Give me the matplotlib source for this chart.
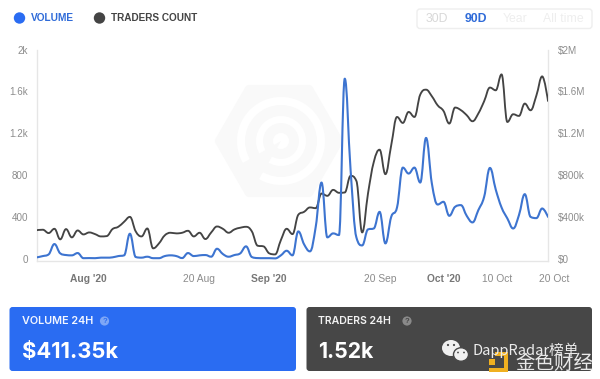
import numpy as np
import matplotlib
matplotlib.use("Agg")
import matplotlib.pyplot as plt
from matplotlib.path import Path
from matplotlib.patches import PathPatch, FancyBboxPatch, Circle, Ellipse, Polygon, Rectangle, RegularPolygon, Wedge

traders = [273,277,245,286,185,283,204,270,232,251,235,213,216,283,305,353,400,261,213,289,
           99,146,223,248,242,248,267,213,248,188,251,308,286,248,280,296,305,261,124,118,
           51,41,178,286,235,420,448,490,483,623,601,658,630,633,792,744,251,623,925,1042,
           808,1085,1355,1298,1403,1355,1569,1616,1553,1466,1413,1292,1445,1420,1372,1314,1388,1505,1636,1610,
           1762,1307,1381,1365,1483,1419,1560,1743,1508]
volume_k = [13,25,41,140,51,35,32,54,5,6,5,10,10,13,25,32,239,16,10,19,
            5,5,25,32,25,6,54,25,32,35,19,95,45,19,35,51,118,16,6,5,
            5,3,32,76,32,261,137,70,305,728,204,242,226,1721,850,204,127,280,289,448,
            146,400,490,871,814,871,728,1155,719,518,544,410,496,512,410,347,464,591,868,661,
            490,385,289,417,617,400,388,480,400]
left_ticks = [0,400,800,1200,1600,2000]
left_labels = ['0','400','800','1.2k','1.6k','2k']
right_labels = ['$0','$400k','$800k','$1.2M','$1.6M','$2M']
x_tick_pos = [8.78,27.9,39.95,59.07,70.1,79.2,89.0]
x_tick_labels = ["Aug '20",'20 Aug',"Sep '20",'20 Sep',"Oct '20",'10 Oct','20 Oct']
x_tick_bold = [True,False,True,False,True,False,False]
range_labels = ['30D','90D','Year','All time']

BLUE='#2a6cf2'; LINEBLUE='#3d74d0'; DARK='#474747'
W,H=600,379
SANS=['Liberation Sans','DejaVu Sans']
fig=plt.figure(figsize=(W/100,H/100),dpi=100,facecolor='white')

# pixel overlay underneath the chart
bg=fig.add_axes([0,0,1,1],zorder=0); bg.set_xlim(0,W); bg.set_ylim(H,0); bg.axis('off')
hexcol='#f9f9f9'
bg.add_patch(RegularPolygon((279,141),6,radius=60,orientation=np.pi/6,facecolor=hexcol,edgecolor=hexcol,lw=6,joinstyle='round'))
for r,c in [(44,'white'),(36,hexcol),(25,'white'),(18,hexcol),(8,'white')]:
    bg.add_patch(Circle((281,141),r,facecolor=c,edgecolor='none'))
bg.add_patch(Wedge((281,141),45,120,150,facecolor=hexcol,edgecolor='none'))

ax=fig.add_axes([37/W,1-261/H,511/W,(261-49.5)/H],zorder=2)
x=np.arange(len(traders),dtype=float)
ax.set_facecolor('none')

def spline(xs,ys,s=1.5):
    xs=np.asarray(xs,float); ys=np.asarray(ys,float)
    verts=[(xs[0],ys[0])]; codes=[Path.MOVETO]
    n=len(xs)
    def ctrl(i):
        if i==0 or i==n-1: return (xs[i],ys[i]),(xs[i],ys[i])
        lx=(s*xs[i]+xs[i-1])/(s+1); ly=(s*ys[i]+ys[i-1])/(s+1)
        rx=(s*xs[i]+xs[i+1])/(s+1); ry=(s*ys[i]+ys[i+1])/(s+1)
        c=(ry-ly)*(rx-xs[i])/(rx-lx)+ys[i]-ry
        ly+=c; ry+=c
        if ly>ys[i-1] and ly>ys[i]:
            ly=max(ys[i-1],ys[i]); ry=2*ys[i]-ly
        elif ly<ys[i-1] and ly<ys[i]:
            ly=min(ys[i-1],ys[i]); ry=2*ys[i]-ly
        if ry>ys[i+1] and ry>ys[i]:
            ry=max(ys[i+1],ys[i]); ly=2*ys[i]-ry
        elif ry<ys[i+1] and ry<ys[i]:
            ry=min(ys[i+1],ys[i]); ly=2*ys[i]-ry
        return (lx,ly),(rx,ry)
    for i in range(n-1):
        _,r=ctrl(i); l,_=ctrl(i+1)
        verts+= [r,l,(xs[i+1],ys[i+1])]
        codes+= [Path.CURVE4]*3
    return Path(verts,codes)

ax.add_patch(PathPatch(spline(x,traders),fill=False,edgecolor='#444444',lw=1.35,capstyle='round',joinstyle='round',zorder=3))
ax.add_patch(PathPatch(spline(x,volume_k),fill=False,edgecolor=LINEBLUE,lw=1.5,capstyle='round',joinstyle='round',zorder=4))
ax.set_xlim(0,88)
ax.set_ylim(-22,2000)
ax.spines['top'].set_visible(False)
for s in ['left','right','bottom']:
    ax.spines[s].set_color('#e6e6e6'); ax.spines[s].set_linewidth(1)
ax.set_yticks(left_ticks); ax.set_yticklabels(left_labels,family=SANS,fontsize=7.1,color='#8c8c8c')
ax.tick_params(axis='y',length=0,pad=6.5)
ax.set_xticks([])
ax2=ax.twinx(); ax2.set_ylim(-22,2000); ax2.set_zorder(1)
ax2.patch.set_visible(False)
ax2.set_yticks(left_ticks); ax2.set_yticklabels(right_labels,family=SANS,fontsize=7.1,color='#8c8c8c')
ax2.tick_params(axis='y',length=0,pad=7)
for s in ax2.spines.values(): s.set_visible(False)

tr=ax.get_xaxis_transform()
for p,l,b in zip(x_tick_pos,x_tick_labels,x_tick_bold):
    ax.text(p,-17.6/211.5,l,transform=tr,ha='center',va='center',family=SANS,fontsize=7.4,
            fontweight='bold' if b else 'normal',color='#777777' if b else '#8c8c8c',clip_on=False)

ov=fig.add_axes([0,0,1,1],zorder=5); ov.set_xlim(0,W); ov.set_ylim(H,0); ov.axis('off'); ov.patch.set_visible(False)
def T(x,y,s,**k):
    k.setdefault('va','center'); k.setdefault('family',SANS)
    return ov.text(x,y,s,**k)
ov.add_patch(Circle((19.5,18),5.7,facecolor=BLUE,edgecolor='none'))
T(30.5,18.3,'VOLUME',fontsize=7.3,fontweight='bold',color='#2f6bd8')
ov.add_patch(Circle((99.5,18),5.7,facecolor='#444444',edgecolor='none'))
T(111,18.3,'TRADERS COUNT',fontsize=7.2,fontweight='bold',color='#444444')
ov.add_patch(FancyBboxPatch((417,9),175,19.5,boxstyle='round,pad=0,rounding_size=3',facecolor='white',edgecolor='#eeeeee',lw=1))
for cx,l,c,w in zip([437,476,515,563],range_labels,['#d8d8d8','#2f6bd8','#eeeeee','#eeeeee'],['normal','bold','normal','normal']):
    T(cx,18.5,l,ha='center',fontsize=8.8,color=c,fontweight=w)
ov.add_patch(FancyBboxPatch((9.5,307),286.5,64,boxstyle='round,pad=0,rounding_size=3',facecolor=BLUE,edgecolor='none'))
ov.add_patch(FancyBboxPatch((306.5,307),285.5,64,boxstyle='round,pad=0,rounding_size=3',facecolor=DARK,edgecolor='none'))
PF=['Inter','DejaVu Sans']
T(22,320.8,'VOLUME 24H',family=PF,fontsize=7.8,fontweight='semibold',color='#f2f6ff')
T(22,352.5,'$411.35k',family=PF,fontsize=15.8,fontweight='bold',color='white')
T(318,320.8,'TRADERS 24H',family=PF,fontsize=7.6,fontweight='semibold',color='#f2f2f2')
T(318,352.5,'1.52k',family=PF,fontsize=15.3,fontweight='bold',color='white')
for cx,c in [(104.5,'#7ea6f6'),(407,'#8a8a8a')]:
    ov.add_patch(Circle((cx,321),4.6,facecolor=c,edgecolor='none'))
    T(cx,321.2,'?',ha='center',fontsize=5.5,fontweight='bold',color=BLUE if c=='#7ea6f6' else DARK)
ov.add_patch(Ellipse((451,348),18,16,facecolor='#f0f0f0',edgecolor='none'))
ov.add_patch(Ellipse((461,354.5),15,13.5,facecolor='#f0f0f0',edgecolor=DARK,lw=1))
for px,py in [(448,345),(454,345)]:
    ov.add_patch(Circle((px,py),1.1,facecolor=DARK,edgecolor='none'))
for px,py in [(458,352.5),(464,352.5)]:
    ov.add_patch(Circle((px,py),0.9,facecolor=DARK,edgecolor='none'))
T(472.5,350,'DappRadar榜单',family=['Noto Sans CJK SC','DejaVu Sans'],fontsize=10.5,color='#ececec')
ov.add_patch(Polygon([(495,352),(508,352),(508,372),(489,372),(489,368),(504,368),(504,356),(495,356)],facecolor='#f0b020',edgecolor='none'))
ov.add_patch(Rectangle((489,359),6,6,facecolor='#f0b020',edgecolor='none'))
T(515,363.5,'金色财经',family=['Noto Sans CJK SC','DejaVu Sans'],fontsize=14,color='#e8e8e8')
fig.savefig('out.png',dpi=100,facecolor='white')
